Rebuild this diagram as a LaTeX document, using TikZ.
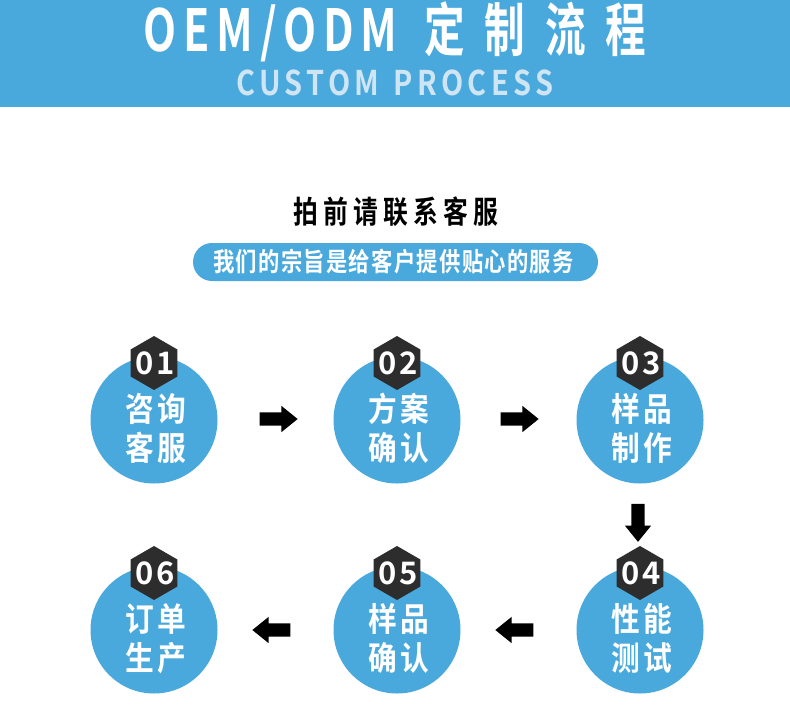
\documentclass[tikz,border=0pt]{standalone}
\usepackage{fontspec}
\setmainfont{Noto Sans CJK SC}
\newfontfamily\titlelatin{Noto Sans CJK SC Bold}[FakeStretch=0.74, LetterSpace=12]
\newfontfamily\titlecjk{Noto Sans CJK SC Bold}[FakeStretch=0.7, LetterSpace=34]
\newfontfamily\subfont{Noto Sans CJK SC Bold}[FakeStretch=0.85, LetterSpace=13]
\newfontfamily\headfont{Noto Sans CJK SC Bold}[FakeStretch=0.8, LetterSpace=17]
\newfontfamily\pillfont{Noto Sans CJK SC Bold}[FakeStretch=0.82, LetterSpace=5]
\newfontfamily\stepfont{Noto Sans CJK SC Bold}[FakeStretch=0.87, LetterSpace=10]
\newfontfamily\numfont{Noto Sans CJK SC Bold}[LetterSpace=8]
\usetikzlibrary{shapes.geometric, shapes.arrows, positioning, calc}
\definecolor{procblue}{RGB}{74,169,220}
\definecolor{subwhite}{RGB}{208,229,244}
\definecolor{hexgray}{RGB}{45,45,45}

\begin{document}
\begin{tikzpicture}[x=1pt, y=-1pt,
    stepcircle/.style={circle, fill=procblue, minimum size=127pt, inner sep=0pt},
    steptext/.style={text=white, align=center, inner sep=0pt, font=\stepfont\fontsize{33}{39}\selectfont},
    numhex/.style={regular polygon, regular polygon sides=6, shape border rotate=30, fill=hexgray, minimum size=54pt, inner sep=0pt},
    numtext/.style={text=white, anchor=base, inner sep=0pt, font=\numfont\fontsize{31}{31}\selectfont},
    blockarrow/.style={single arrow, fill=black, minimum height=38pt, inner sep=6.5pt, single arrow head extend=6.5pt, single arrow tip angle=78},
]
    \useasboundingbox (0,0) rectangle (790,721);
    \fill[white] (0,0) rectangle (790,721);

    % header band
    \fill[procblue] (0,0) rectangle (790,107);
    \node[text=white, anchor=base west, inner sep=0pt, font=\fontsize{58}{58}\selectfont] (title) at (143,51) {\titlelatin OEM/ODM\hspace{27pt}\titlecjk 定制流程};
    \node[text=subwhite, anchor=base west, inner sep=0pt, font=\subfont\fontsize{34}{34}\selectfont] (subtitle) at (236,95) {CUSTOM\hspace{14pt}PROCESS};

    \node[text=black, anchor=base west, inner sep=0pt, font=\headfont\fontsize{31}{31}\selectfont] (contact) at (293,223) {拍前请联系客服};
    \node[fill=procblue, rounded corners=19pt, minimum width=405pt, minimum height=38pt, inner sep=0pt] (motto) at (395.5,262) {};
    \node[text=white, anchor=base west, inner sep=0pt, font=\pillfont\fontsize{26}{26}\selectfont] (mottotext) at (213,271) {我们的宗旨是给客户提供贴心的服务};

    % steps
    \node[stepcircle] (c1) at (154,420) {};
    \node[stepcircle] (c2) at (397,420) {};
    \node[stepcircle] (c3) at (640,420) {};
    \node[stepcircle] (c4) at (640,630) {};
    \node[stepcircle] (c5) at (397,630) {};
    \node[stepcircle] (c6) at (154,630) {};

    \node[steptext] (t1) at ($(c1)+(2,8.5)$) {咨询\\客服};
    \node[steptext] (t2) at ($(c2)+(2,8.5)$) {方案\\确认};
    \node[steptext] (t3) at ($(c3)+(2,8.5)$) {样品\\制作};
    \node[steptext] (t4) at ($(c4)+(2,8.5)$) {性能\\测试};
    \node[steptext] (t5) at ($(c5)+(2,8.5)$) {样品\\确认};
    \node[steptext] (t6) at ($(c6)+(2,8.5)$) {订单\\生产};

    \node[numhex] (h1) at ($(c1)+(0,-57)$) {};
    \node[numhex] (h2) at ($(c2)+(0,-57)$) {};
    \node[numhex] (h3) at ($(c3)+(0,-57)$) {};
    \node[numhex] (h4) at ($(c4)+(0,-57)$) {};
    \node[numhex] (h5) at ($(c5)+(0,-57)$) {};
    \node[numhex] (h6) at ($(c6)+(0,-57)$) {};

    \node[numtext] (n1) at ($(h1)+(1,11)$) {01};
    \node[numtext] (n2) at ($(h2)+(1,11)$) {02};
    \node[numtext] (n3) at ($(h3)+(1,11)$) {03};
    \node[numtext] (n4) at ($(h4)+(1,11)$) {04};
    \node[numtext] (n5) at ($(h5)+(1,11)$) {05};
    \node[numtext] (n6) at ($(h6)+(1,11)$) {06};

    % arrows between steps
    \node[blockarrow] (a12) at ($(c1)!0.5!(c2)+(-1,-1)$) {};
    \node[blockarrow] (a23) at ($(c2)!0.5!(c3)+(-3,-1)$) {};
    \node[blockarrow, shape border rotate=270] (a34) at ($(c3)!0.47!(c4)+(-2,0)$) {};
    \node[blockarrow, shape border rotate=180] (a45) at ($(c4)!0.5!(c5)$) {};
    \node[blockarrow, shape border rotate=180] (a56) at ($(c5)!0.5!(c6)$) {};
\end{tikzpicture}
\end{document}
